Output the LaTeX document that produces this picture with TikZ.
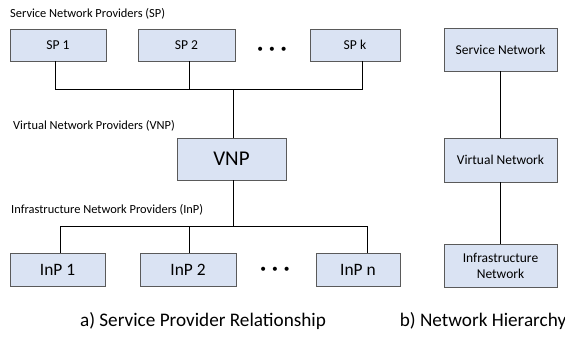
\documentclass[tikz,border=0pt]{standalone}
\usepackage{fontspec}
\setmainfont{Carlito}
\usepackage{tikz}
\usetikzlibrary{positioning}
\definecolor{boxFill}{HTML}{DAE3F3}
\definecolor{boxLine}{HTML}{5A5A5A}
\newcommand{\labelSize}[0]{\fontsize{12.4}{14}\selectfont}
\newcommand{\provDots}[0]{\textbullet\hspace{6pt}\textbullet\hspace{6pt}\textbullet}

\begin{document}
\begin{tikzpicture}[x=1pt, y=-1pt]
  \tikzset{provbox/.style={draw=boxLine, fill=boxFill, line width=0.8pt, inner sep=0pt, align=center},
           grouplabel/.style={anchor=west, inner sep=0pt, font=\labelSize},
           caption/.style={inner sep=0pt, font=\fontsize{19.2}{22}\selectfont}}
  \useasboundingbox (0,0) rectangle (565,338);
  % a) service provider relationship
  \node[grouplabel] (splabel) at (10,14) {Service Network Providers (SP)};
  \node[provbox, minimum width=96pt, minimum height=32pt, font=\fontsize{13.6}{16}\selectfont] (sp1) at (58,45) {SP 1};
  \node[provbox, minimum width=97pt, minimum height=32pt, font=\fontsize{13.6}{16}\selectfont] (sp2) at (186.5,45) {SP 2};
  \node[provbox, minimum width=90pt, minimum height=32pt, font=\fontsize{13.6}{16}\selectfont] (spk) at (355,45) {SP k};
  \node[font=\fontsize{11.5}{14}\selectfont] (spdots) at (272,50) {\provDots};
  \node[grouplabel] (vnplabel) at (13,126) {Virtual Network Providers (VNP)};
  \node[provbox, minimum width=109pt, minimum height=42pt, font=\fontsize{21}{24}\selectfont] (vnp) at (231.5,159) {VNP};
  \node[grouplabel] (inplabel) at (11,210) {Infrastructure Network Providers (InP)};
  \node[provbox, minimum width=95pt, minimum height=33pt, font=\fontsize{17.4}{20}\selectfont] (inp1) at (57.5,269.5) {InP 1};
  \node[provbox, minimum width=96pt, minimum height=33pt, font=\fontsize{17.4}{20}\selectfont] (inp2) at (188,269.5) {InP 2};
  \node[provbox, minimum width=84pt, minimum height=33pt, font=\fontsize{17.4}{20}\selectfont] (inpn) at (358,269.5) {InP n};
  \node[font=\fontsize{11.5}{14}\selectfont] (inpdots) at (275,270) {\provDots};
  \coordinate (spbus1) at (55,89);
  \coordinate (spbus2) at (189,89);
  \coordinate (spbusk) at (362,89);
  \coordinate (spbusv) at (233,89);
  \coordinate (inpbus1) at (60,226);
  \coordinate (inpbus2) at (189,226);
  \coordinate (inpbusn) at (367,226);
  \coordinate (inpbusv) at (233,226);
  \draw[line width=0.8pt] (spbus1 |- sp1.south) -- (spbus1) -- (spbusk) -- (spbusk |- spk.south);
  \draw[line width=0.8pt] (spbus2 |- sp2.south) -- (spbus2);
  \draw[line width=0.8pt] (spbusv) -- (spbusv |- vnp.north);
  \draw[line width=0.8pt] (inpbus1 |- inp1.north) -- (inpbus1) -- (inpbusn) -- (inpbusn |- inpn.north);
  \draw[line width=0.8pt] (inpbus2 |- inp2.north) -- (inpbus2);
  \draw[line width=0.8pt] (inpbusv) -- (inpbusv |- vnp.south);
  \node[caption] (captiona) at (203,321) {a) Service Provider Relationship};
  % b) network hierarchy
  \node[provbox, minimum width=113pt, minimum height=43pt, font=\fontsize{13.5}{16}\selectfont] (servnet) at (500.5,49.5) {Service Network};
  \node[provbox, minimum width=113pt, minimum height=44pt, font=\fontsize{13.5}{16}\selectfont] (virtnet) at (500.5,160) {Virtual Network};
  \node[provbox, minimum width=113pt, minimum height=43pt, font=\fontsize{13.5}{16}\selectfont] (infranet) at (500.5,265.5) {Infrastructure\\Network};
  \draw[line width=0.8pt] (servnet) -- (virtnet);
  \draw[line width=0.8pt] (virtnet) -- (infranet);
  \node[caption] (captionb) at (483,321) {b) Network Hierarchy};
\end{tikzpicture}
\end{document}
